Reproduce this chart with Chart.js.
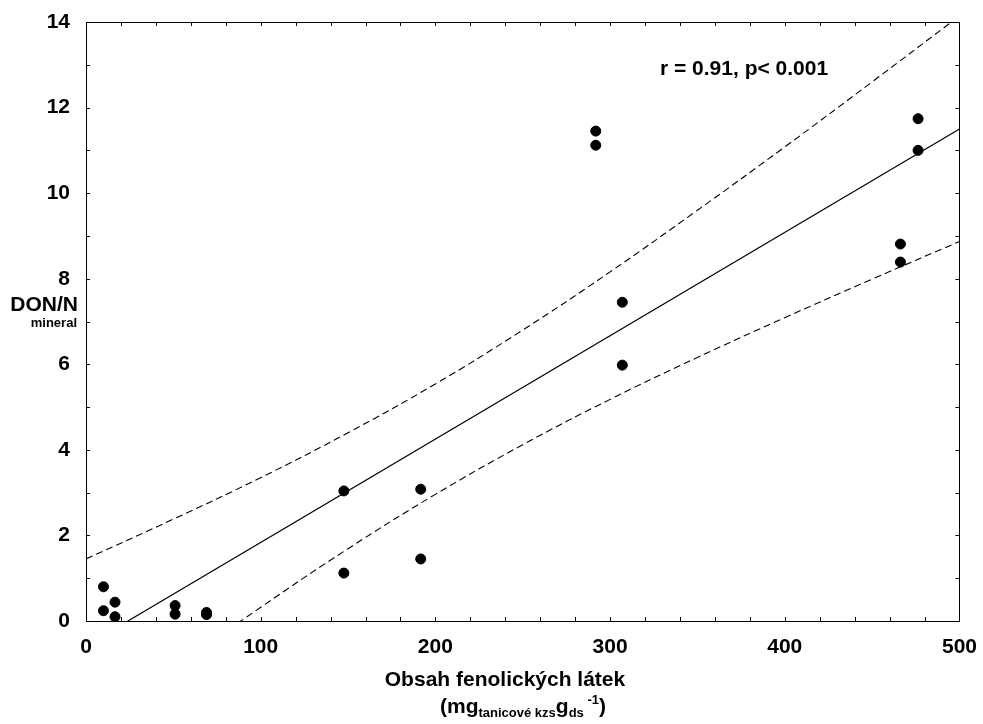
<!DOCTYPE html>
<html>
<head>
<meta charset="utf-8">
<script src="https://cdn.jsdelivr.net/npm/chart.js@4"></script>
<style>
  html, body { margin: 0; padding: 0; background: #fff; }
  #wrap { width: 983px; height: 724px; position: relative; }
</style>
</head>
<body>
<div id="wrap"><canvas id="c" width="983" height="724"></canvas></div>
<script>
// Observed points
const pointX = [10, 10, 16.6, 16.6, 51, 51, 69, 69, 147.6, 147.6, 191.6, 191.6, 291.8, 291.8, 307, 307, 466.2, 466.2, 476.3, 476.3];
const pointY = [0.80, 0.24, 0.44, 0.10, 0.36, 0.16, 0.20, 0.15, 3.04, 1.12, 3.08, 1.45, 11.45, 11.12, 7.45, 5.98, 8.81, 8.39, 11.74, 11.00];

// Fitted line (end values)
const fitX = [0, 500];
const fitY = [-0.58, 11.5];

// 95% confidence band
const bandX = [0, 50, 100, 150, 200, 250, 300, 350, 400, 450, 500];
const bandUpper = [1.45, 2.38, 3.35, 4.40, 5.54, 6.80, 8.16, 9.60, 11.08, 12.60, 14.14];
const bandLower = [-2.61, -1.12, 0.32, 1.69, 2.96, 4.12, 5.18, 6.16, 7.09, 7.99, 8.87];

const xLabelTicks = [0, 100, 200, 300, 400, 500];
const yLabelTicks = [0, 2, 4, 6, 8, 10, 12, 14];
const annotationText = 'r = 0.91, p< 0.001';

const FONT = '"Liberation Sans", Arial, sans-serif';

const toXY = (xs, ys) => xs.map((x, i) => ({ x: x, y: ys[i] }));

const framePlugin = {
  id: 'frame',
  afterDraw(chart) {
    const { ctx, chartArea: a, scales } = chart;
    ctx.save();
    ctx.strokeStyle = '#000';
    ctx.lineWidth = 1;
    ctx.strokeRect(Math.round(a.left) + 0.5, Math.round(a.top) + 0.5,
                   Math.round(a.right - a.left), Math.round(a.bottom - a.top));
    const L = 4;
    ctx.beginPath();
    scales.x.ticks.forEach(t => {
      const px = Math.round(scales.x.getPixelForValue(t.value)) + 0.5;
      ctx.moveTo(px, a.bottom); ctx.lineTo(px, a.bottom - L);
      ctx.moveTo(px, a.top); ctx.lineTo(px, a.top + L);
    });
    scales.y.ticks.forEach(t => {
      const py = Math.round(scales.y.getPixelForValue(t.value)) + 0.5;
      ctx.moveTo(a.left, py); ctx.lineTo(a.left + L, py);
      ctx.moveTo(a.right, py); ctx.lineTo(a.right - L, py);
    });
    ctx.stroke();

    // texts
    ctx.fillStyle = '#000';
    ctx.textBaseline = 'alphabetic';
    ctx.textAlign = 'left';
    ctx.font = 'bold 21px ' + FONT;
    ctx.fillText(annotationText, 660, 75);

    // y title
    ctx.textAlign = 'right';
    ctx.font = 'bold 21px ' + FONT;
    ctx.fillText('DON/N', 78, 311);
    ctx.font = 'bold 13px ' + FONT;
    ctx.fillText('mineral', 77, 327);

    // x title
    ctx.textAlign = 'center';
    ctx.font = 'bold 21px ' + FONT;
    ctx.fillText('Obsah fenolických látek', 505, 686);

    // second line with sub/superscripts
    ctx.textAlign = 'left';
    const segs = [
      { t: '(mg', f: 'bold 21px', dy: 0 },
      { t: 'tanicové kzs', f: 'bold 13px', dy: 4 },
      { t: 'g', f: 'bold 21px', dy: 0 },
      { t: 'ds', f: 'bold 13px', dy: 4 },
      { t: ' ', f: 'bold 13px', dy: 0 },
      { t: '-1', f: 'bold 13px', dy: -9 },
      { t: ')', f: 'bold 21px', dy: 0 }
    ];
    let x = 440;
    const base = 713;
    segs.forEach(s => {
      ctx.font = s.f + ' ' + FONT;
      ctx.fillText(s.t, x, base + s.dy);
      x += ctx.measureText(s.t).width;
    });
    ctx.restore();
  }
};

new Chart(document.getElementById('c'), {
  type: 'scatter',
  data: {
    datasets: [
      {
        type: 'line',
        data: toXY(fitX, fitY),
        borderColor: '#000',
        borderWidth: 1.2,
        pointRadius: 0,
        fill: false,
        tension: 0
      },
      {
        type: 'line',
        data: toXY(bandX, bandUpper),
        borderColor: '#000',
        borderWidth: 1.1,
        borderDash: [7, 4],
        pointRadius: 0,
        fill: false,
        tension: 0.4
      },
      {
        type: 'line',
        data: toXY(bandX, bandLower),
        borderColor: '#000',
        borderWidth: 1.1,
        borderDash: [7, 4],
        pointRadius: 0,
        fill: false,
        tension: 0.4
      },
      {
        data: toXY(pointX, pointY),
        backgroundColor: '#000',
        borderColor: '#000',
        pointRadius: 5,
        pointHoverRadius: 5
      }
    ]
  },
  options: {
    responsive: false,
    animation: false,
    events: [],
    layout: { padding: { left: 0, right: 23, top: 22, bottom: 0 } },
    plugins: { legend: { display: false }, tooltip: { enabled: false } },
    scales: {
      x: {
        type: 'linear',
        min: 0, max: 500,
        grid: { display: false },
        border: { display: false },
        ticks: {
          stepSize: 20,
          autoSkip: false,
          maxRotation: 0,
          padding: 6,
          color: '#000',
          font: { family: FONT, size: 21, weight: 'bold' },
          callback: v => xLabelTicks.includes(v) ? String(v) : ''
        },
        afterFit: s => { s.height = 103; }
      },
      y: {
        type: 'linear',
        min: 0, max: 14,
        grid: { display: false },
        border: { display: false },
        ticks: {
          stepSize: 1,
          autoSkip: false,
          padding: 8,
          color: '#000',
          font: { family: FONT, size: 21, weight: 'bold' },
          callback: v => yLabelTicks.includes(v) ? String(v) : ''
        },
        afterFit: s => { s.width = 86; }
      }
    }
  },
  plugins: [framePlugin]
});
</script>
</body>
</html>
